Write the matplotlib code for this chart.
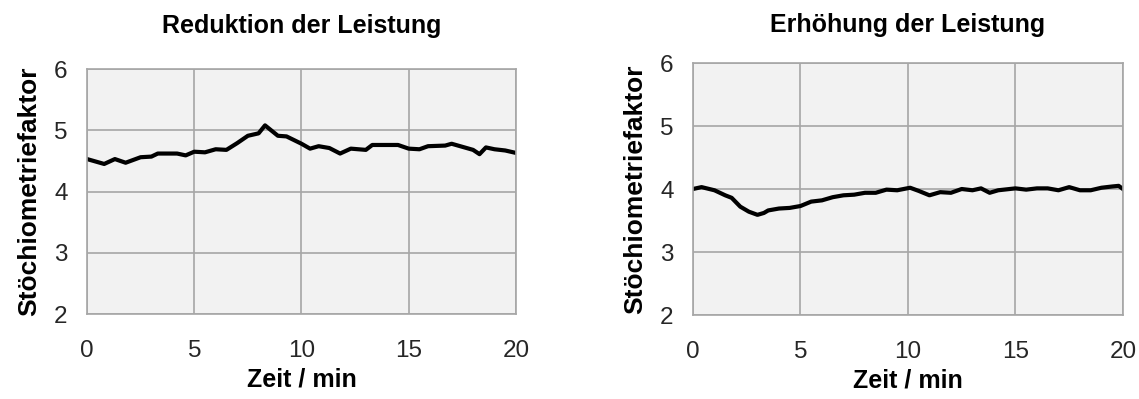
import matplotlib.pyplot as plt

plt.rcParams['font.family'] = ['Liberation Sans', 'DejaVu Sans']

# Reduktion der Leistung
t_red = [0, 0.5, 0.8, 1.3, 1.8, 2.5, 3, 3.3, 4.2, 4.6, 5, 5.5, 6, 6.5, 7, 7.5, 8, 8.3,
         8.9, 9.3, 10, 10.4, 10.8, 11.3, 11.8, 12.3, 13, 13.3, 14, 14.5, 15, 15.5, 15.9,
         16.7, 17, 17.5, 18, 18.3, 18.6, 19, 19.5, 20]
s_red = [4.53, 4.48, 4.45, 4.53, 4.47, 4.56, 4.57, 4.62, 4.62, 4.59, 4.65, 4.64, 4.69,
         4.68, 4.79, 4.91, 4.95, 5.08, 4.91, 4.90, 4.78, 4.70, 4.74, 4.71, 4.62, 4.70,
         4.68, 4.76, 4.76, 4.76, 4.70, 4.69, 4.74, 4.75, 4.78, 4.73, 4.68, 4.61, 4.72,
         4.69, 4.67, 4.63]

# Erhöhung der Leistung
t_inc = [0, 0.4, 1, 1.5, 1.8, 2.2, 2.6, 3, 3.3, 3.5, 4, 4.5, 5, 5.5, 6, 6.5, 7, 7.5, 8,
         8.5, 9, 9.5, 10.1, 10.5, 11, 11.5, 12, 12.5, 13, 13.4, 13.8, 14.2, 15, 15.5, 16,
         16.5, 17, 17.5, 18, 18.5, 19, 19.5, 19.8, 20]
s_inc = [4.00, 4.03, 3.98, 3.90, 3.86, 3.72, 3.64, 3.59, 3.62, 3.66, 3.69, 3.70, 3.73,
         3.80, 3.82, 3.87, 3.90, 3.91, 3.94, 3.94, 3.99, 3.98, 4.02, 3.97, 3.90, 3.95,
         3.94, 4.00, 3.98, 4.01, 3.94, 3.98, 4.01, 3.99, 4.01, 4.01, 3.98, 4.03, 3.98,
         3.98, 4.02, 4.04, 4.05, 4.00]

x_ticks = [0, 5, 10, 15, 20]
y_ticks = [2, 3, 4, 5, 6]

fig = plt.figure(figsize=(11.39, 3.99), dpi=100)
ax1 = fig.add_axes([0.0764, 0.213, 0.3766, 0.614])
ax2 = fig.add_axes([0.6084, 0.2105, 0.3775, 0.6316])

for ax, t, s, title, tpad in [(ax1, t_red, s_red, 'Reduktion der Leistung', 26),
                              (ax2, t_inc, s_inc, 'Erhöhung der Leistung', 22)]:
    ax.plot(t, s, color='black', linewidth=3)
    ax.set_facecolor('#f2f2f2')
    ax.set_xlim(0, 20)
    ax.set_ylim(2, 6)
    ax.set_xticks(x_ticks)
    ax.set_yticks(y_ticks)
    ax.grid(True, color='#a6a6a6', linewidth=1.2)
    ax.set_axisbelow(True)
    for sp in ax.spines.values():
        sp.set_color('#a6a6a6')
        sp.set_linewidth(1.2)
    ax.tick_params(length=0, labelsize=17.5, labelcolor='#262626')
    ax.tick_params(axis='x', pad=19)
    ax.tick_params(axis='y', pad=14)
    ax.set_title(title, fontsize=18, fontweight='bold', pad=tpad)
    ax.set_xlabel('Zeit / min', fontsize=18, fontweight='bold', labelpad=4)
    ax.set_ylabel('Stöchiometriefaktor', fontsize=19, fontweight='bold', labelpad=9)

plt.savefig('out.png', dpi=100)
